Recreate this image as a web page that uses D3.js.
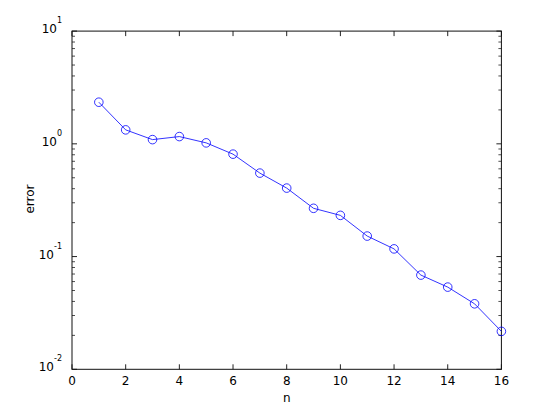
<!DOCTYPE html>
<html>
<head>
<meta charset="utf-8">
<script src="https://cdn.jsdelivr.net/npm/d3@7"></script>
<style>
  body { margin: 0; background: #fff; }
  svg { display: block; font-family: "DejaVu Sans", sans-serif; }
</style>
</head>
<body>
<svg width="554" height="415"></svg>
<script>
var nValues = [1, 2, 3, 4, 5, 6, 7, 8, 9, 10, 11, 12, 13, 14, 15, 16];
var errValues = [2.34, 1.33, 1.09, 1.16, 1.02, 0.81, 0.55, 0.405, 0.268, 0.232, 0.152, 0.117, 0.0685, 0.0536, 0.0381, 0.0217];
var xTicks = [0, 2, 4, 6, 8, 10, 12, 14, 16];
var yExps = [-2, -1, 0, 1];

var svg = d3.select("svg"),
    width = +svg.attr("width"),
    height = +svg.attr("height");

var plotL = 72, plotR = 501.4, plotT = 31.1, plotB = 369.3;

var x = d3.scaleLinear().domain([0, 16]).range([plotL, plotR]);
var y = d3.scaleLog().domain([1e-2, 1e1]).range([plotB, plotT]);

var g = svg.append("g");

// minor log ticks
var minor = [];
yExps.slice(0, 3).forEach(function(e) {
  for (var k = 2; k <= 9; k++) minor.push(k * Math.pow(10, e));
});

var tickColor = "#222";

// left + right minor ticks
g.selectAll("line.minorL").data(minor).enter().append("line")
  .attr("x1", plotL).attr("x2", plotL + 3)
  .attr("y1", function(d) { return y(d); }).attr("y2", function(d) { return y(d); })
  .style("stroke", tickColor).style("stroke-width", 0.8);
g.selectAll("line.minorR").data(minor).enter().append("line")
  .attr("x1", plotR).attr("x2", plotR - 3)
  .attr("y1", function(d) { return y(d); }).attr("y2", function(d) { return y(d); })
  .style("stroke", tickColor).style("stroke-width", 0.8);

// major y ticks
g.selectAll("line.majL").data(yExps).enter().append("line")
  .attr("x1", plotL).attr("x2", plotL + 5)
  .attr("y1", function(d) { return y(Math.pow(10, d)); }).attr("y2", function(d) { return y(Math.pow(10, d)); })
  .style("stroke", tickColor);
g.selectAll("line.majR").data(yExps).enter().append("line")
  .attr("x1", plotR).attr("x2", plotR - 5)
  .attr("y1", function(d) { return y(Math.pow(10, d)); }).attr("y2", function(d) { return y(Math.pow(10, d)); })
  .style("stroke", tickColor);

// x ticks bottom and top
g.selectAll("line.xb").data(xTicks).enter().append("line")
  .attr("x1", function(d) { return x(d); }).attr("x2", function(d) { return x(d); })
  .attr("y1", plotB).attr("y2", plotB - 5)
  .style("stroke", tickColor);
g.selectAll("line.xt").data(xTicks).enter().append("line")
  .attr("x1", function(d) { return x(d); }).attr("x2", function(d) { return x(d); })
  .attr("y1", plotT).attr("y2", plotT + 5)
  .style("stroke", tickColor);

// box
g.append("rect")
  .attr("x", plotL).attr("y", plotT)
  .attr("width", plotR - plotL).attr("height", plotB - plotT)
  .style("fill", "none").style("stroke", "#111").style("stroke-width", 1);

// x tick labels
g.selectAll("text.xl").data(xTicks).enter().append("text")
  .attr("x", function(d) { return x(d); })
  .attr("y", plotB + 16)
  .attr("text-anchor", "middle")
  .style("font-size", "12px")
  .text(function(d) { return d; });

// y tick labels 10^e
var yl = g.selectAll("text.yl").data(yExps).enter().append("text")
  .attr("x", plotL - 10)
  .attr("y", function(d) { return y(Math.pow(10, d)) + 2; })
  .attr("text-anchor", "end")
  .style("font-size", "12px");
yl.append("tspan").text("10");
yl.append("tspan")
  .attr("dy", -10)
  .style("font-size", "8px")
  .text(function(d) { return d; });

// axis labels
g.append("text")
  .attr("x", (plotL + plotR) / 2)
  .attr("y", 401.5)
  .attr("text-anchor", "middle")
  .style("font-size", "12px")
  .text("n");

g.append("text")
  .attr("transform", "translate(34,199) rotate(-90)")
  .attr("text-anchor", "middle")
  .style("font-size", "12px")
  .text("error");

// data line
var line = d3.line()
  .x(function(d, i) { return x(nValues[i]); })
  .y(function(d) { return y(d); });

g.append("path")
  .datum(errValues)
  .attr("d", line)
  .style("fill", "none")
  .style("stroke", "#0000ff")
  .style("stroke-width", 0.8);

g.selectAll("circle.pt").data(errValues).enter().append("circle")
  .attr("cx", function(d, i) { return x(nValues[i]); })
  .attr("cy", function(d) { return y(d); })
  .attr("r", 4.3)
  .style("fill", "none")
  .style("stroke", "#0000ff")
  .style("stroke-width", 0.8);
</script>
</body>
</html>
